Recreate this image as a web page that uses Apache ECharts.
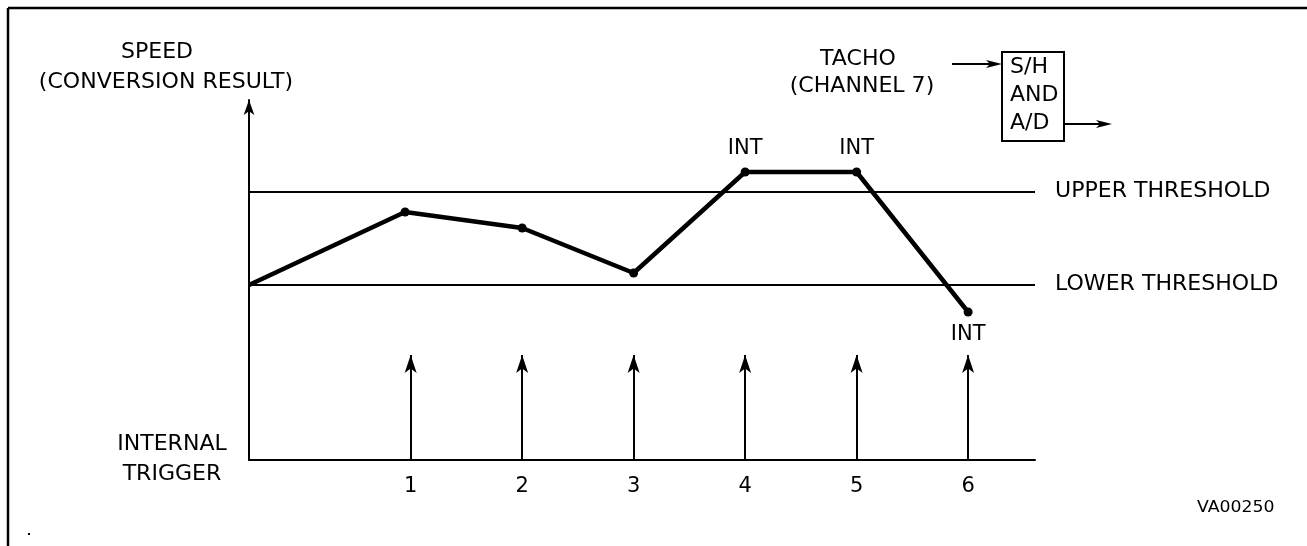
<!DOCTYPE html>
<html>
<head>
<meta charset="utf-8">
<script src="https://cdn.jsdelivr.net/npm/echarts@6/dist/echarts.min.js"></script>
<style>
  html, body { margin: 0; padding: 0; background: #fff; }
  #chart { width: 1307px; height: 546px; }
</style>
</head>
<body>
<div id="chart"></div>
<script>
// trigger instants along the time axis
const triggers = [1, 2, 3, 4, 5, 6];
const tickLabels = ['1', '2', '3', '4', '5', '6'];
// conversion result (speed) at each point
const speedX = [-0.45, 0.95, 2, 3, 4, 5, 6];
const speedY = [1.75, 2.48, 2.32, 1.87, 2.88, 2.88, 1.48];
const pointTags = ['', '', '', '', 'INT', 'INT', 'INT'];
// thresholds
const thresholdValues = [2.68, 1.75];
const thresholdNames = ['UPPER THRESHOLD', 'LOWER THRESHOLD'];
const triggerHeight = 1.05;

const xMin = -0.45, xMax = 6.6, yMax = 3.6;
const FAMILY = '"DejaVu Sans", sans-serif';

const chart = echarts.init(document.getElementById('chart'));

const speedData = speedX.map((x, i) => {
    const item = { value: [x, speedY[i]] };
    if (i === 0) item.symbol = 'none';
    if (pointTags[i]) {
        const below = speedY[i] < thresholdValues[1];
        item.label = {
            show: true,
            formatter: pointTags[i],
            position: below ? 'bottom' : 'top',
            distance: 8
        };
    }
    return item;
});

const option = {
    animation: false,
    backgroundColor: '#fff',
    grid: { left: 249, right: 272, top: 100, bottom: 86 },
    xAxis: {
        type: 'value',
        min: xMin,
        max: xMax,
        splitLine: { show: false },
        axisTick: { show: false },
        axisLine: { lineStyle: { color: '#000', width: 2 } },
        axisLabel: {
            customValues: triggers,
            formatter: v => tickLabels[triggers.indexOf(v)] || '',
            color: '#000',
            fontSize: 21,
            fontFamily: FAMILY,
            margin: 16
        }
    },
    yAxis: {
        type: 'value',
        min: 0,
        max: yMax,
        splitLine: { show: false },
        axisTick: { show: false },
        axisLabel: { show: false },
        axisLine: {
            onZero: false,
            lineStyle: { color: '#000', width: 2 },
            symbol: ['none', 'arrow'],
            symbolSize: [8, 15]
        }
    },
    series: [
        {
            type: 'line',
            data: speedData,
            symbol: 'circle',
            symbolSize: 9,
            itemStyle: { color: '#000' },
            lineStyle: { color: '#000', width: 4.5 },
            label: { color: '#000', fontSize: 21, fontFamily: FAMILY },
            silent: true,
            markLine: {
                silent: true,
                symbol: 'none',
                lineStyle: { color: '#000', width: 2, type: 'solid' },
                label: { show: false },
                data: thresholdValues.map(v => ({ yAxis: v }))
            }
        },
        {
            type: 'line',
            data: [],
            markLine: {
                silent: true,
                symbol: ['none', 'arrow'],
                symbolSize: [9, 18],
                lineStyle: { color: '#000', width: 2, type: 'solid' },
                label: { show: false },
                data: triggers.map(t => [{ coord: [t, 0] }, { coord: [t, triggerHeight] }])
            }
        }
    ]
};
chart.setOption(option);

function txt(text, x, y, align, size, sx) {
    return {
        type: 'text', x: x, y: y, scaleX: sx || 1.05, silent: true,
        style: {
            text: text, font: (size || 21) + 'px ' + FAMILY, fill: '#000',
            align: align || 'center', verticalAlign: 'middle'
        }
    };
}
function arrowHead(tx, ty) {
    return {
        type: 'polygon', silent: true,
        shape: { points: [[tx, ty], [tx - 16, ty - 4], [tx - 12, ty], [tx - 16, ty + 4]] },
        style: { fill: '#000' }
    };
}

// threshold names placed next to the lines
const thresholdTexts = thresholdValues.map((v, i) => {
    const p = chart.convertToPixel({ gridIndex: 0 }, [xMax, v]);
    return txt(thresholdNames[i], p[0] + 20, p[1], 'left');
});

chart.setOption({
    graphic: [
        // frame
        { type: 'line', silent: true, shape: { x1: 8, y1: 8, x2: 1307, y2: 8 }, style: { stroke: '#000', lineWidth: 2.5 } },
        { type: 'line', silent: true, shape: { x1: 8, y1: 8, x2: 8, y2: 546 }, style: { stroke: '#000', lineWidth: 2.5 } },
        { type: 'rect', silent: true, shape: { x: 28, y: 533, width: 2, height: 2 }, style: { fill: '#000' } },

        txt('SPEED', 157, 53),
        txt('(CONVERSION RESULT)', 166, 83),
        txt('TACHO', 858, 60),
        txt('(CHANNEL 7)', 862, 87),

        // S/H block
        { type: 'rect', silent: true, shape: { x: 1002, y: 52, width: 62, height: 89 }, style: { fill: 'none', stroke: '#000', lineWidth: 2 } },
        txt('S/H', 1010, 68, 'left'),
        txt('AND', 1010, 96, 'left'),
        txt('A/D', 1010, 124, 'left'),
        { type: 'line', silent: true, shape: { x1: 952, y1: 64, x2: 995, y2: 64 }, style: { stroke: '#000', lineWidth: 2 } },
        arrowHead(1002, 64),
        { type: 'line', silent: true, shape: { x1: 1064, y1: 124, x2: 1105, y2: 124 }, style: { stroke: '#000', lineWidth: 2 } },
        arrowHead(1112, 124),

        txt('INTERNAL', 172, 445),
        txt('TRIGGER', 172, 475),
        txt('VA00250', 1197, 508, 'left', 16, 1.08)
    ].concat(thresholdTexts)
});
</script>
</body>
</html>
